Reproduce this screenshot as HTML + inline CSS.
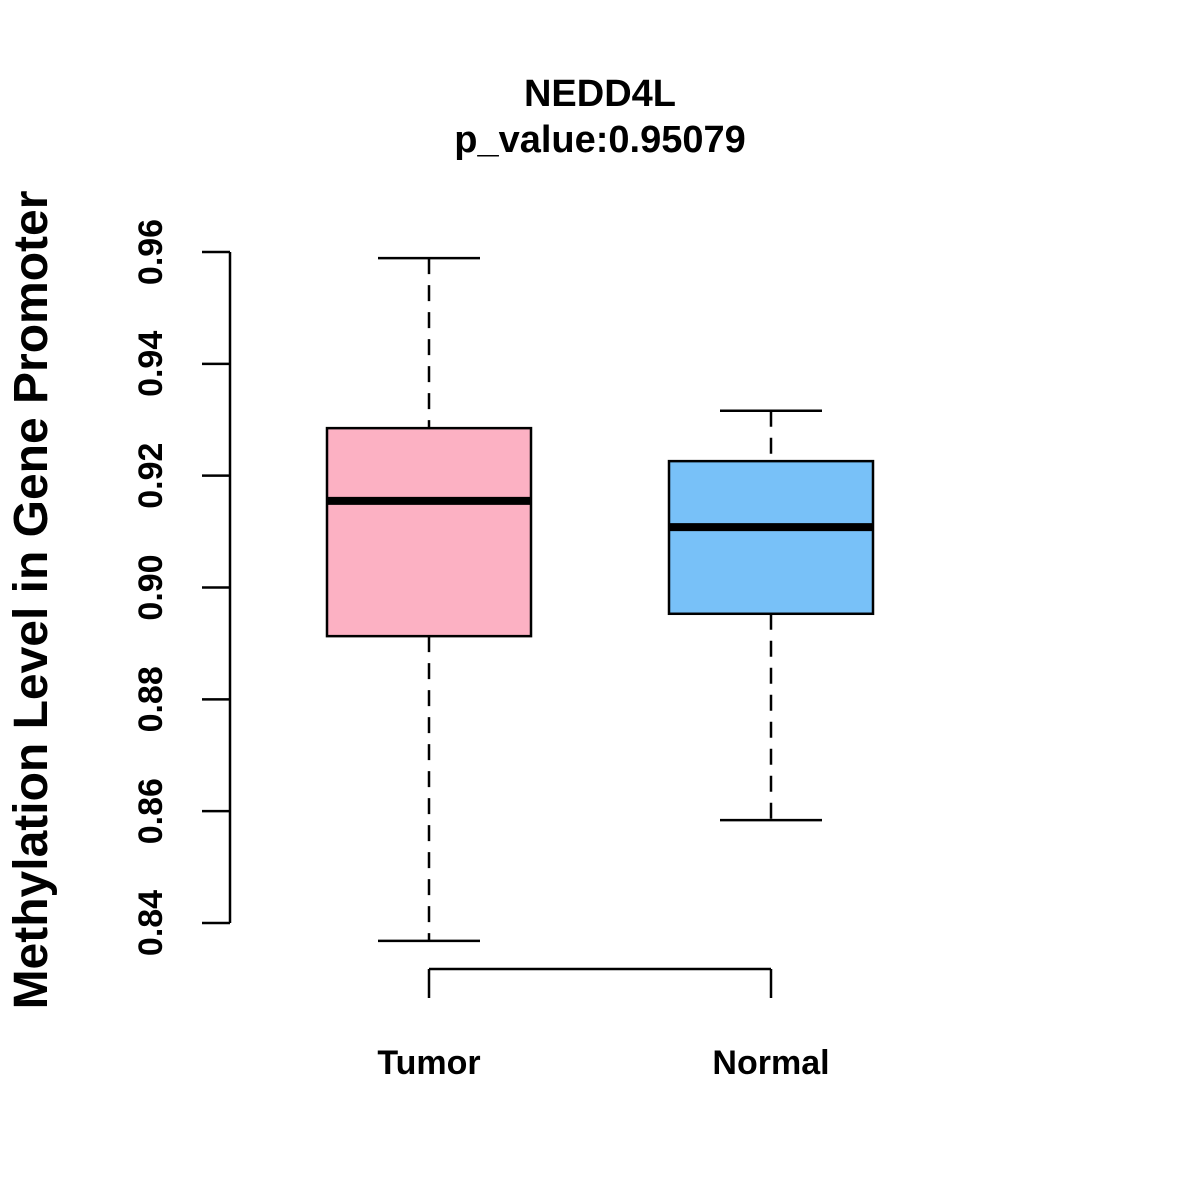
<!DOCTYPE html>
<html><head><meta charset="utf-8">
<style>
html,body{margin:0;padding:0;background:#fff;}
svg{display:block;font-family:"Liberation Sans",Arial,sans-serif;font-weight:bold;}
</style></head>
<body>
<svg id="chart" width="1200" height="1200" viewBox="0 0 1200 1200">
<rect width="1200" height="1200" fill="#fff"/>
<text x="600" y="106" text-anchor="middle" font-size="38">NEDD4L</text>
<text x="600" y="152" text-anchor="middle" font-size="38">p_value:0.95079</text>
<text transform="translate(47,600) rotate(-90)" text-anchor="middle" font-size="48">Methylation Level in Gene Promoter</text>
<g id="plot"></g>
</svg>
<script>
const categories = ["Tumor", "Normal"];
const whiskerLow = [0.8368, 0.8584];
const q1 = [0.8913, 0.8953];
const medians = [0.9155, 0.9108];
const q3 = [0.9285, 0.9226];
const whiskerHigh = [0.9589, 0.9316];
const colors = ["#fcb1c3", "#78c1f8"];
const yTicks = [0.84, 0.86, 0.88, 0.90, 0.92, 0.94, 0.96];
const yTickLabels = ["0.84", "0.86", "0.88", "0.90", "0.92", "0.94", "0.96"];

const NS = "http://www.w3.org/2000/svg";
const g = document.getElementById("plot");
function y(v){ return 923 + (v - 0.84) * (252 - 923) / 0.12; }
function x(i){ return 429 + i * 342; }
function el(tag, attrs){
  const e = document.createElementNS(NS, tag);
  for (const k in attrs) e.setAttribute(k, attrs[k]);
  g.appendChild(e);
  return e;
}
let ax = el("line", {x1:230, x2:230, y1:y(yTicks[0]), y2:y(yTicks[yTicks.length-1]), stroke:"#000", "stroke-width":2.5});


yTicks.forEach((t, i) => {
  const tk = el("line", {x1:202, x2:230, y1:y(t), y2:y(t), stroke:"#000", "stroke-width":2.5});
  
  
  const lb = el("text", {transform:"translate(162," + y(t) + ") rotate(-90)", "text-anchor":"middle", "font-size":34});
  lb.textContent = yTickLabels[i];
  
  
});
let xa = el("line", {x1:x(0), x2:x(categories.length-1), y1:969, y2:969, stroke:"#000", "stroke-width":2.5});


categories.forEach((c, i) => {
  const cx = x(i);
  const tk = el("line", {x1:cx, x2:cx, y1:969, y2:998, stroke:"#000", "stroke-width":2.5});
  
  
  const lb = el("text", {x:cx, y:1074, "text-anchor":"middle", "font-size":34});
  lb.textContent = c;
  
  
  const w1 = el("line", {x1:cx, x2:cx, y1:y(whiskerHigh[i]), y2:y(q3[i]), stroke:"#000", "stroke-width":2.5, "stroke-dasharray":"16,11"});
  
  
  const w2 = el("line", {x1:cx, x2:cx, y1:y(q1[i]), y2:y(whiskerLow[i]), stroke:"#000", "stroke-width":2.5, "stroke-dasharray":"16,11"});
  
  
  const c1 = el("line", {x1:cx-51, x2:cx+51, y1:y(whiskerHigh[i]), y2:y(whiskerHigh[i]), stroke:"#000", "stroke-width":2.5});
  
  
  const c2 = el("line", {x1:cx-51, x2:cx+51, y1:y(whiskerLow[i]), y2:y(whiskerLow[i]), stroke:"#000", "stroke-width":2.5});
  
  
  const box = el("rect", {x:cx-102, y:y(q3[i]), width:204, height:y(q1[i])-y(q3[i]), fill:colors[i], stroke:"#000", "stroke-width":2.5});
  
  
  const md = el("line", {x1:cx-102, x2:cx+102, y1:y(medians[i]), y2:y(medians[i]), stroke:"#000", "stroke-width":8});
  
  
});
</script>
</body></html>
